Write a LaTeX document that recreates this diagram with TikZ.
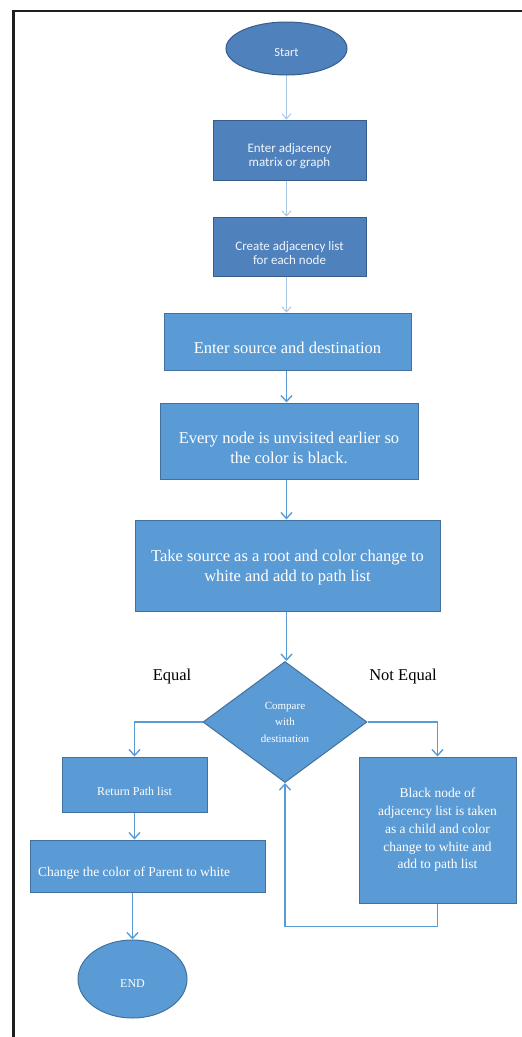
\documentclass[tikz,border=0pt]{standalone}
\usepackage{fontspec}
\setmainfont{Liberation Serif}
\newfontfamily\carlito{Carlito}
\usetikzlibrary{shapes.geometric,arrows.meta}
\definecolor{darkblue}{HTML}{4F81BD}
\definecolor{darkedge}{HTML}{385D8A}
\definecolor{lightblue}{HTML}{5B9BD5}
\definecolor{lightedge}{HTML}{41719C}
\definecolor{faintarrow}{HTML}{A9C6E8}
\tikzset{
  darkbox/.style={rectangle, fill=darkblue, draw=darkedge, line width=1pt, inner sep=0pt},
  lightbox/.style={rectangle, fill=lightblue, draw=lightedge, line width=1pt, inner sep=0pt},
  darktext/.style={text=white!92!darkblue, align=center, inner sep=0pt, font=\carlito\fontsize{13}{14}\selectfont},
  bigtext/.style={text=white, align=center, inner sep=0pt, font=\fontsize{16.5}{20}\selectfont},
  midtext/.style={text=white, align=center, inner sep=0pt, font=\fontsize{13.5}{17.7}\selectfont},
  smalltext/.style={text=white, align=center, inner sep=0pt, font=\fontsize{12}{14}\selectfont},
  oval/.style={ellipse, inner sep=0pt, line width=1pt},
  flowarrow/.style={draw=lightblue, line width=1.4pt, -{Straight Barb[length=6pt,width=11pt]}},
  faintflow/.style={draw=faintarrow, line width=1pt, -{Straight Barb[length=5pt,width=9pt]}},
  caption/.style={font=\fontsize{16.5}{20}\selectfont, text=black, inner sep=0pt}
}
\begin{document}
\begin{tikzpicture}[x=1pt,y=-1pt]
\useasboundingbox (0,0) rectangle (522,1037);
% frame
\draw[line width=2.2pt, draw=black!88] (13.5,1037) -- (13.5,11) -- (522,11);

% nodes
\node[oval, fill=darkblue, draw=darkedge, minimum width=121pt, minimum height=53pt,
  label={[darktext, font=\carlito\fontsize{12.5}{14}\selectfont, yshift=-4pt]center:Start}] (start) at (286.5,48.5) {};
\node[darkbox, minimum width=153pt, minimum height=60pt,
  label={[darktext, yshift=-6pt]center:{Enter adjacency\\matrix or graph}}] (b1) at (289.5,150) {};
\node[darkbox, minimum width=153pt, minimum height=59pt,
  label={[darktext, yshift=-6.5pt]center:{Create adjacency list\\for each node}}] (b2) at (289.5,246.5) {};
\node[lightbox, minimum width=247pt, minimum height=57pt,
  label={[bigtext, yshift=-6pt]center:{Enter source and destination}}] (b3) at (287.5,341.5) {};
\node[lightbox, minimum width=258pt, minimum height=76pt,
  label={[bigtext, yshift=-7pt]center:{Every node is unvisited earlier so\\the color is black.}}] (b4) at (289,441) {};
\node[lightbox, minimum width=305pt, minimum height=91pt,
  label={[bigtext, yshift=-2.5pt]center:{Take source as a root and color change to\\white and add to path list}}] (b5) at (287.5,565.5) {};
\node[diamond, fill=lightblue, draw=lightedge, line width=1pt, minimum width=164pt, minimum height=121pt, inner sep=0pt, text=white, align=center, font=\fontsize{11}{16.5}\selectfont] (dec) at (285,722) {Compare\\with\\destination};
\node[caption] (eq) at (172,677) {Equal};
\node[caption] (neq) at (403,677) {Not Equal};
\node[lightbox, minimum width=145pt, minimum height=55pt,
  label={[smalltext, yshift=-7pt]center:{Return Path list}}] (ret) at (134.5,784.5) {};
\node[lightbox, minimum width=235pt, minimum height=52pt] (chg) at (147.5,866) {};
\node[anchor=west, text=white, inner sep=0pt, font=\fontsize{13.5}{16}\selectfont] (chgtext) at (38,873) {Change the color of Parent to white};
\node[oval, fill=lightblue, draw=lightedge, minimum width=109pt, minimum height=78pt,
  label={[smalltext, yshift=-5pt]center:END}] (endn) at (132.5,979) {};
\node[lightbox, minimum width=157pt, minimum height=146pt,
  label={[midtext]center:{Black node of\\adjacency list is taken\\as a child and color\\change to white and\\add to path list}}] (blk) at (437.5,830) {};

% connectors
\draw[faintflow] (start.south) -- (start.south |- b1.north);
\draw[faintflow] (b1.south -| start.south) -- (start.south |- b2.north);
\draw[faintflow] (b2.south -| start.south) -- (start.south |- b3.north);
\draw[flowarrow] (b3.south -| start.south) -- (start.south |- b4.north);
\draw[flowarrow] (b4.south -| start.south) -- (start.south |- b5.north);
\draw[flowarrow] (b5.south -| start.south) -- (start.south |- dec.north);
\draw[flowarrow] (dec.west) -| (ret.north);
\draw[flowarrow] (dec.east) -| (blk.north);
\draw[flowarrow] (ret.south) -- (ret.south |- chg.north);
\draw[flowarrow] (endn.north |- chg.south) -- (endn.north);
\draw[flowarrow] (blk.south) |- ([yshift=-23pt]blk.south -| dec.south) -- (dec.south);
\end{tikzpicture}
\end{document}
